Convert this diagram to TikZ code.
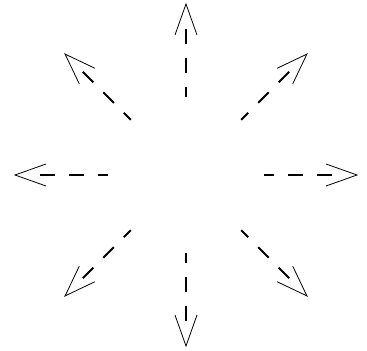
\documentclass[tikz,border=0pt]{standalone}
\tikzset{
  shaft/.style={line width=1.4pt, dash pattern=on 11.25pt off 10.5pt},
  headline/.style={line width=0.6pt, line join=miter}
}
\begin{document}
\begin{tikzpicture}[x=0.75pt,y=0.75pt]
\useasboundingbox (-186,-175) rectangle (181,175);
\foreach \a in {0,45,...,315}{
  \begin{scope}[rotate=\a]
    \coordinate (s\a) at (78,0);
    \coordinate (e\a) at (146,0);
    \coordinate (t\a) at (171,0);
    \coordinate (l\a) at (140,11);
    \coordinate (r\a) at (140,-11);
    \draw[shaft] (e\a) -- (s\a);
    \draw[headline] (l\a) -- (t\a) -- (r\a);
  \end{scope}
}
\end{tikzpicture}
\end{document}
